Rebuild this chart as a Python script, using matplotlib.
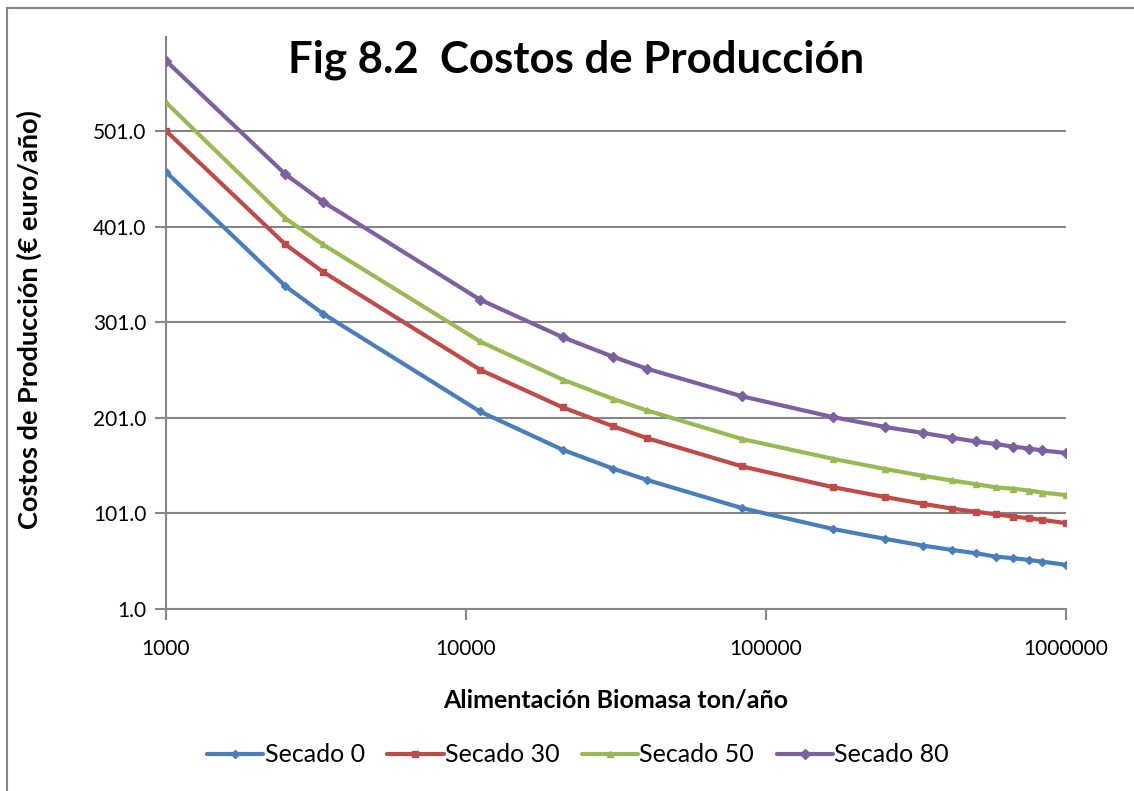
import matplotlib.pyplot as plt
import matplotlib
from matplotlib.ticker import FixedLocator, NullLocator, FuncFormatter

matplotlib.rcParams['font.family'] = ['Lato', 'DejaVu Sans']

# Feed rate (ton/year)
feed = [1000, 2500, 3333, 11111, 21000, 31000, 40000, 83333,
        166667, 250000, 333333, 416667, 500000, 583333, 666667,
        750000, 833333, 1000000]

# Production cost (euro/year) for each drying case
secado_0 = [458.4, 338.8, 310.1, 207.6, 167.4, 147.5, 135.9, 106.2,
            84.5, 74.0, 67.0, 62.5, 59.0, 55.5, 53.8, 52.0, 50.2, 46.8]
secado_30 = [501.5, 382.5, 353.9, 251.4, 211.8, 191.9, 179.7, 149.9,
             128.3, 117.8, 110.8, 105.8, 102.4, 99.9, 97.4, 95.7, 94.0, 90.5]
secado_50 = [531.2, 409.8, 382.5, 281.0, 240.9, 220.6, 208.7, 178.6,
             158.0, 147.2, 140.1, 135.2, 131.4, 128.0, 126.6, 124.7, 122.6, 119.9]
secado_80 = [574.9, 456.0, 427.3, 324.8, 285.3, 264.7, 252.4, 223.3,
             201.7, 191.2, 185.0, 180.0, 176.1, 173.4, 170.7, 168.7, 166.7, 164.0]

series = [("Secado 0", secado_0, "#4A7EBB", "D", 4),
          ("Secado 30", secado_30, "#BE4B48", "s", 4),
          ("Secado 50", secado_50, "#98B954", "^", 4.5),
          ("Secado 80", secado_80, "#7D60A0", "D", 5)]

y_ticks = [1, 101, 201, 301, 401, 501]
x_ticks = [1000, 10000, 100000, 1000000]

fig = plt.figure(figsize=(11.34, 7.91), dpi=100)
ax = fig.add_axes([166 / 1134, 1 - 608.6 / 791, 900 / 1134, 571.8 / 791])

grid_col = "#868686"
for name, vals, col, mk, ms in series:
    ax.plot(feed, vals, color=col, linewidth=3.0, marker=mk, markersize=ms,
            label=name, solid_capstyle='round', zorder=3)

ax.set_xscale('log')
ax.set_xlim(1000, 1000000)
ax.set_ylim(1, 600)
ax.xaxis.set_major_locator(FixedLocator(x_ticks))
ax.xaxis.set_minor_locator(NullLocator())
ax.xaxis.set_major_formatter(FuncFormatter(lambda v, p: "%d" % v))
ax.yaxis.set_major_locator(FixedLocator(y_ticks))
ax.yaxis.set_major_formatter(FuncFormatter(lambda v, p: "%.1f" % v))

ax.grid(axis='y', color=grid_col, linewidth=1.5, zorder=0)
ax.grid(axis='x', visible=False)
for s in ['top', 'right']:
    ax.spines[s].set_visible(False)
for s in ['left', 'bottom']:
    ax.spines[s].set_color(grid_col)
    ax.spines[s].set_linewidth(1.5)
ax.tick_params(axis='both', direction='out', length=8, width=1.5,
               color=grid_col, labelsize=15, pad=6)
ax.tick_params(axis='x', pad=14)

ax.set_xlabel("Alimentación Biomasa ton/año", fontsize=18, fontweight='bold')
ax.set_ylabel("Costos de Producción (€ euro/año)", fontsize=19.5,
              fontweight='bold')
ax.xaxis.set_label_coords(0.5, -0.139)
ax.yaxis.set_label_coords(-0.138, 0.505)

fig.text(576 / 1134, 1 - 60 / 791, "Fig 8.2  Costos de Producción",
         fontsize=31.5, fontweight='bold', ha='center', va='center')

fig.legend(loc='center', bbox_to_anchor=(578 / 1134, 1 - 755 / 791),
           ncol=4, frameon=False, fontsize=18, handlelength=2.25,
           handletextpad=0.05, columnspacing=0.9)

# chart area border
fig.add_artist(plt.Line2D([7 / 1134, 7 / 1134], [0, 1 - 8 / 791],
                          transform=fig.transFigure, color=grid_col, lw=1.5))
fig.add_artist(plt.Line2D([7 / 1134, 1], [1 - 8 / 791, 1 - 8 / 791],
                          transform=fig.transFigure, color=grid_col, lw=1.5))

fig.savefig("out.png", dpi=100)
